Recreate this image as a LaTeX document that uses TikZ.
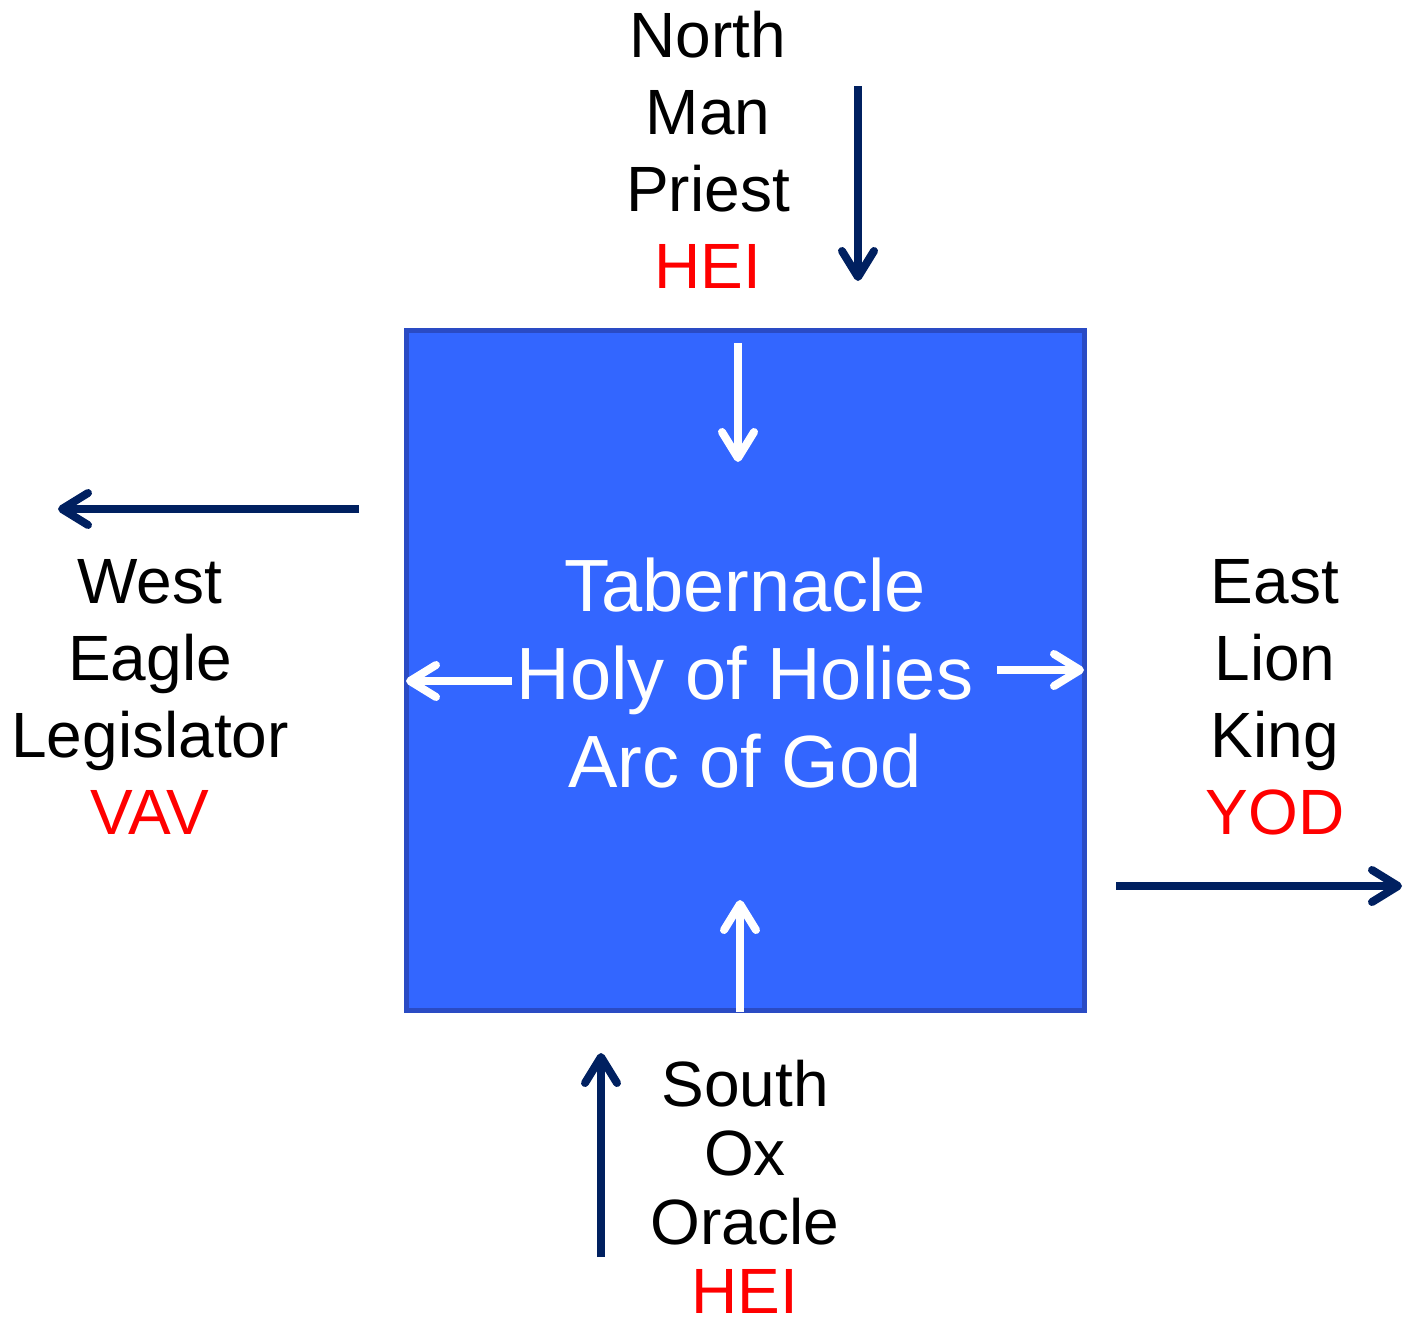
\documentclass[tikz,border=0pt]{standalone}
\usepackage{fontspec}
\setmainfont{Liberation Sans}
\usetikzlibrary{arrows.meta}
\definecolor{navy}{HTML}{002060}
\definecolor{tabfill}{HTML}{3366FF}
\definecolor{tabedge}{HTML}{2A4BC4}
\tikzset{
  tabbox/.style={draw=tabedge,fill=tabfill,line width=2.5pt,minimum width=339pt,minimum height=340pt,inner sep=0pt},
  side/.style={align=center,inner sep=0pt,font=\fontsize{32}{38.5}\selectfont},
  core/.style={align=center,inner sep=0pt,text=white,font=\fontsize{37}{44}\selectfont},
  outarrow/.style={draw=navy,line width=4pt,-{Straight Barb[length=13pt,width=16pt,line cap=round,line join=round]}},
  inarrow/.style={draw=white,line width=4pt,-{Straight Barb[length=13pt,width=16pt,line cap=round,line join=round]}}
}
\begin{document}
\begin{tikzpicture}[x=0.5pt,y=-0.5pt]
  \useasboundingbox (0,0) rectangle (1403,1317);
  \node[tabbox] (box) at (745,670) {};
  \node[core] (holy) at (745,673) {Tabernacle\\Holy of Holies\\Arc of God};
  \node[side] (north) at (708,150) {North\\Man\\Priest\\\textcolor{red}{HEI}};
  \node[side] (west) at (150,697) {West\\Eagle\\Legislator\\\textcolor{red}{VAV}};
  \node[side] (east) at (1275,697) {East\\Lion\\King\\\textcolor{red}{YOD}};
  \node[side,font=\fontsize{32}{34.5}\selectfont] (south) at (745,1187) {South\\Ox\\Oracle\\\textcolor{red}{HEI}};
  % arrow ends
  \coordinate (n1) at (858,86);   \coordinate (n2) at (858,281);
  \coordinate (w1) at (359,509);  \coordinate (w2) at (58,509);
  \coordinate (e1) at (1116,886); \coordinate (e2) at (1402,886);
  \coordinate (s1) at (601,1257); \coordinate (s2) at (601,1053);
  \coordinate (ti1) at (738,343); \coordinate (ti2) at (738,462);
  \coordinate (bi1) at (740,1012); \coordinate (bi2) at (740,900);
  \coordinate (li1) at (512,681); \coordinate (li2) at (406,681);
  \coordinate (ri1) at (997,670); \coordinate (ri2) at (1084,670);
  \begin{scope}[outarrow]
    \draw (n1) -- (n2);
    \draw (w1) -- (w2);
    \draw (e1) -- (e2);
    \draw (s1) -- (s2);
  \end{scope}
  \begin{scope}[inarrow]
    \draw (ti1) -- (ti2);
    \draw (bi1) -- (bi2);
    \draw (li1) -- (li2);
    \draw (ri1) -- (ri2);
  \end{scope}
\end{tikzpicture}
\end{document}
